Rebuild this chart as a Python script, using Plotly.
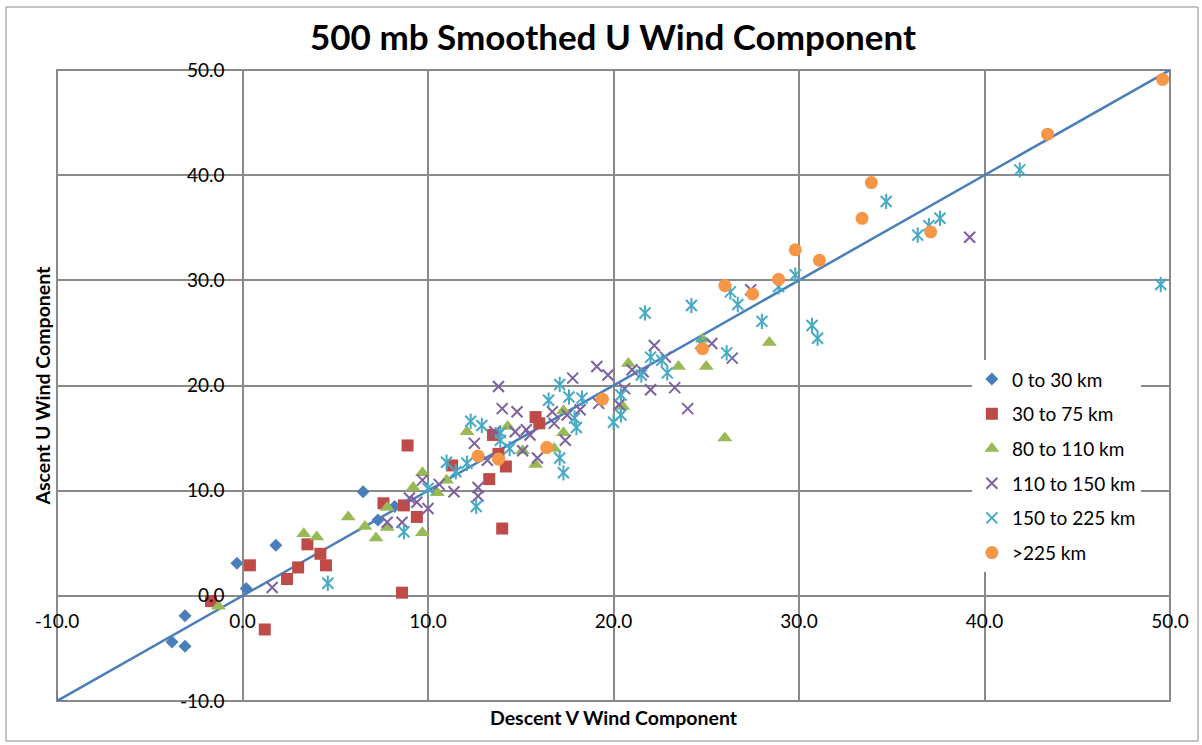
import plotly.graph_objects as go

# ---- data ----
x_0_30 = [-3.8, -3.1, -3.1, -0.3, 0.2, 1.8, 6.5, 7.3, 8.2]
y_0_30 = [-4.4, -4.8, -1.9, 3.1, 0.7, 4.8, 9.9, 7.2, 8.5]

x_30_75 = [-1.7, 0.4, 1.2, 3.5, 3.0, 2.4, 4.2, 4.5, 7.6, 8.7, 9.4, 8.6, 8.9, 11.3,
           15.8, 16.0, 13.5, 13.8, 14.2, 13.3, 14.0]
y_30_75 = [-0.5, 2.9, -3.2, 4.9, 2.7, 1.6, 4.0, 2.9, 8.8, 8.6, 7.5, 0.3, 14.3, 12.4,
           17.0, 16.4, 15.3, 13.5, 12.3, 11.1, 6.4]

x_80_110 = [-1.3, 3.3, 4.0, 5.7, 6.6, 7.2, 7.8, 7.8, 9.7, 9.7, 9.2, 10.5, 11.0, 12.1,
            14.3, 15.1, 15.8, 16.8, 17.3, 17.3, 20.5, 20.8, 23.5, 25.0, 24.8, 28.4, 26.0]
y_80_110 = [-1.0, 5.9, 5.6, 7.5, 6.6, 5.5, 8.4, 6.5, 6.0, 11.7, 10.3, 9.8, 11.0, 15.6,
            16.1, 13.8, 12.5, 14.0, 17.6, 15.5, 18.0, 22.1, 21.8, 21.8, 24.4, 24.1, 15.0]

x_110_150 = [1.6, 7.8, 8.6, 9.0, 9.4, 10.0, 9.7, 10.6, 11.4, 12.7, 12.7, 13.8, 14.0, 14.8,
             12.5, 13.6, 14.7, 15.3, 15.5, 15.1, 15.9, 13.2, 16.7, 16.8, 17.5, 17.4, 17.8,
             19.1, 19.7, 22.2, 25.3, 21.0, 21.6, 20.6, 22.0, 23.3, 24.0, 19.2, 20.3, 18.2,
             22.8, 26.4, 27.4, 39.2]
y_110_150 = [0.8, 7.0, 7.0, 9.3, 8.9, 8.3, 11.0, 10.6, 9.9, 10.3, 9.5, 19.9, 17.8, 17.5,
             14.5, 15.6, 15.6, 15.8, 15.3, 13.8, 13.1, 12.9, 17.5, 16.4, 17.2, 14.8, 20.7,
             21.8, 21.0, 23.8, 24.0, 21.5, 21.3, 19.7, 19.6, 19.8, 17.8, 18.3, 18.2, 17.7,
             22.7, 22.6, 29.1, 34.1]

x_150_225 = [4.6, 8.7, 10.0, 11.0, 11.5, 12.1, 12.6, 12.3, 12.9, 13.9, 13.9, 14.4, 17.1,
             16.5, 17.6, 18.3, 17.9, 18.0, 17.1, 17.3, 20.0, 20.4, 20.4, 22.0, 22.6, 21.5,
             22.9, 21.7, 24.2, 26.3, 26.7, 28.0, 28.9, 29.8, 30.7, 31.0, 26.1, 24.7, 34.7,
             36.4, 37.0, 37.6, 41.9, 49.5]
y_150_225 = [1.2, 6.1, 10.2, 12.7, 11.8, 12.6, 8.5, 16.6, 16.2, 15.5, 14.8, 14.0, 20.1,
             18.6, 18.9, 18.8, 16.9, 16.0, 13.1, 11.7, 16.5, 17.2, 19.1, 22.7, 22.4, 21.0,
             21.2, 26.9, 27.6, 28.9, 27.7, 26.1, 29.4, 30.5, 25.7, 24.5, 23.1, 24.0, 37.5,
             34.3, 35.2, 35.9, 40.5, 29.6]

x_225 = [12.7, 13.8, 16.4, 19.4, 24.8, 26.0, 27.5, 28.9, 29.8, 31.1, 33.4, 33.9, 37.1, 43.4, 49.6]
y_225 = [13.3, 13.0, 14.1, 18.7, 23.5, 29.5, 28.7, 30.1, 32.9, 31.9, 35.9, 39.3, 34.6, 43.9, 49.1]

line_x = [-10, 50]
line_y = [-10, 50]

tick_vals = [-10, 0, 10, 20, 30, 40, 50]
tick_text = ["-10.0", "0.0", "10.0", "20.0", "30.0", "40.0", "50.0"]

FONT = "Lato"
GRID = "#8a8a8a"
PURPLE = "#7D60A0"
TEAL = "#46AAC5"

fig = go.Figure()

fig.add_trace(go.Scatter(
    x=line_x, y=line_y, mode="lines+markers", showlegend=False, hoverinfo="skip",
    line=dict(color="#4A7EBB", width=2.5),
    marker=dict(symbol="cross-thin-open", size=14, color="#4A7EBB",
                line=dict(color="#4A7EBB", width=1.5)),
))

fig.add_trace(go.Scatter(
    x=x_0_30, y=y_0_30, mode="markers", name="0 to 30 km", legendgroup="a",
    marker=dict(symbol="diamond", size=10, color="#4A7EBB"),
))
fig.add_trace(go.Scatter(
    x=x_30_75, y=y_30_75, mode="markers", name="30 to 75 km", legendgroup="b",
    marker=dict(symbol="square", size=12, color="#BE4B48"),
))
fig.add_trace(go.Scatter(
    x=x_80_110, y=y_80_110, mode="markers", name="80 to 110 km", legendgroup="c",
    marker=dict(symbol="triangle-up", size=13, color="#98B954"),
))
fig.add_trace(go.Scatter(
    x=x_110_150, y=y_110_150, mode="markers", name="110 to 150 km", legendgroup="d",
    marker=dict(symbol="x-thin-open", size=11, color=PURPLE, line=dict(color=PURPLE, width=2)),
))
fig.add_trace(go.Scatter(
    x=x_150_225, y=y_150_225, mode="markers", name="150 to 225 km", legendgroup="e",
    marker=dict(symbol="x-thin-open", size=11, color=TEAL, line=dict(color=TEAL, width=2)),
))
fig.add_trace(go.Scatter(
    x=x_150_225, y=y_150_225, mode="markers", showlegend=False, legendgroup="e",
    hoverinfo="skip",
    marker=dict(symbol="line-ns-open", size=11, color=TEAL, line=dict(color=TEAL, width=2)),
))
fig.add_trace(go.Scatter(
    x=x_225, y=y_225, mode="markers", name=">225 km", legendgroup="f",
    marker=dict(symbol="circle", size=13, color="#F79646"),
))

axis_common = dict(
    range=[-10, 50], tickmode="array", tickvals=tick_vals, ticktext=tick_text,
    showgrid=True, gridcolor=GRID, gridwidth=2, zeroline=False, showline=False,
    ticks="", tickfont=dict(family=FONT, size=19, color="#000000"),
    anchor="free", position=10 / 60, fixedrange=True,
)

fig.update_layout(
    width=1202, height=745,
    margin=dict(l=57, r=32, t=70, b=44),
    paper_bgcolor="white", plot_bgcolor="white",
    xaxis=dict(axis_common, domain=[0, 1], ticklabelstandoff=12),
    yaxis=dict(axis_common, domain=[0, 1], ticklabelstandoff=18),
    legend=dict(
        x=0.822, y=0.540, xanchor="left", yanchor="top",
        bgcolor="white", font=dict(family=FONT, size=19, color="#000000"),
        tracegroupgap=7, itemwidth=30,
    ),
    font=dict(family=FONT),
    shapes=[
        dict(type="rect", xref="paper", yref="paper", x0=0, x1=1, y0=0, y1=1,
             line=dict(color=GRID, width=2), layer="below"),
        dict(type="rect", xref="paper", yref="paper",
             x0=(6 - 57) / 1113, x1=(1198 - 57) / 1113,
             y0=(701 - 741) / 631, y1=(701 - 7) / 631,
             line=dict(color="#8a8a8a", width=1), layer="below"),
    ],
    annotations=[
        dict(text="<b>500 mb Smoothed U Wind Component</b>", xref="paper", yref="paper",
             x=0.4995, y=(701 - 36) / 631, xanchor="center", yanchor="middle",
             showarrow=False, font=dict(family=FONT, size=35, color="#000000")),
        dict(text="<b>Descent V Wind Component</b>", xref="paper", yref="paper",
             x=0.5, y=(701 - 718) / 631, xanchor="center", yanchor="middle",
             showarrow=False, font=dict(family=FONT, size=19.5, color="#000000")),
        dict(text="<b>Ascent U Wind Component</b>", xref="paper", yref="paper",
             x=(42 - 57) / 1113, y=0.5, xanchor="center", yanchor="middle", textangle=-90,
             showarrow=False, font=dict(family=FONT, size=19.5, color="#000000")),
    ],
)

fig.write_html("out.html")
